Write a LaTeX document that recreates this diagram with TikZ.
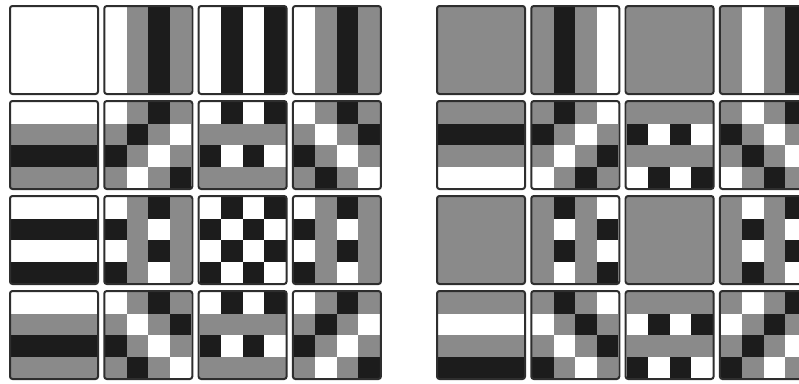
\documentclass[tikz,border=0pt]{standalone}
\usepackage{tikz}
\definecolor{dftBlack}{HTML}{1C1C1C}
\definecolor{dftGray}{HTML}{8A8A8A}
\definecolor{dftWhite}{HTML}{FFFFFF}
\definecolor{dftFrame}{HTML}{2E2E2E}

\begin{document}
\begin{tikzpicture}[
  x=1pt, y=-1pt,
  tileframe/.style={draw=dftFrame, line width=2pt, rounded corners=2.5pt},
]
\useasboundingbox (0,0) rectangle (799,383);
\clip (0,0) rectangle (799,383);
% left block: real part, right block: imaginary part
\foreach \g/\gx in {0/10, 1/437} {
  \foreach \u in {0,...,3} {
    \foreach \v in {0,...,3} {
      \pgfmathsetmacro\tx{\gx+94.3*\v}
      \pgfmathsetmacro\ty{6+95*\u}
      \foreach \r in {0,...,3} {
        \foreach \c in {0,...,3} {
          \ifnum\g=0
            \pgfmathtruncatemacro\ci{round(cos(90*(\u*\r+\v*\c)))+1}
          \else
            \pgfmathtruncatemacro\ci{round(-sin(90*(\u*\r+\v*\c)))+1}
          \fi
          \edef\cellcol{\ifcase\ci dftBlack\or dftGray\else dftWhite\fi}
          \fill[\cellcol] (\tx+1+21.5*\c, \ty+1+21.5*\r) rectangle ++(21.6,21.6);
        }
      }
      \draw[tileframe] (\tx,\ty) rectangle ++(88,88);
    }
  }
}
\end{tikzpicture}
\end{document}
